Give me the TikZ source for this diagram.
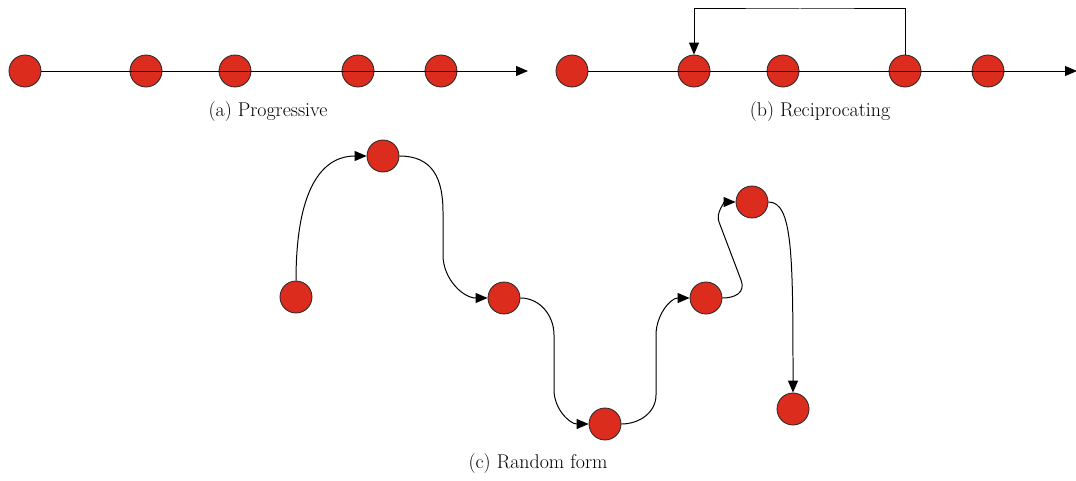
\documentclass[tikz,border=0pt]{standalone}
\usepackage{tikz}
\usetikzlibrary{arrows.meta}

\definecolor{ballred}{RGB}{220,44,30}

\begin{document}
\begin{tikzpicture}[x=0.03cm,y=-0.03cm,>={Triangle[length=3.6mm,width=3mm]},line width=0.85pt,
  ball/.style={circle,draw=black!85,line width=0.7pt,fill=ballred,minimum size=0.96cm,inner sep=0pt},
  caption/.style={font=\fontsize{17}{20}\selectfont}]
\useasboundingbox (0,0) rectangle (1076,480);

% (a) progressive
\node[ball] (p1) at (25,71) {};
\node[ball] (p2) at (146,71) {};
\node[ball] (p3) at (235,71) {};
\node[ball] (p4) at (358,71) {};
\node[ball] (p5) at (441,71) {};
\coordinate (pend) at (528,71);
\draw[->] (p1.east) -- (pend);
\node[caption] (pcap) at (268,112) {(a) Progressive};

% (b) reciprocating
\node[ball] (r1) at (572,71) {};
\node[ball] (r2) at (694,71) {};
\node[ball] (r3) at (783,71) {};
\node[ball] (r4) at (905,71) {};
\node[ball] (r5) at (988,71) {};
\coordinate (rend) at (1077,71);
\coordinate (rtop) at (800,9);
\draw[->] (r1.east) -- (rend);
\draw[->] (r4.north) |- (rtop) -| (r2.north);
\node[caption] (rcap) at (820,112) {(b) Reciprocating};

% (c) random form
\node[ball] (c1) at (296,297) {};
\node[ball] (c2) at (383,156) {};
\node[ball] (c3) at (504,298) {};
\node[ball] (c4) at (605,424) {};
\node[ball] (c5) at (706,298) {};
\node[ball] (c6) at (752,202) {};
\node[ball] (c7) at (793,409) {};

\draw[->] (c1.north) .. controls +(0,-100) and +(-40,0) .. (c2.west);
\draw[->] (c2.east) to[out=0,in=90,looseness=1.2] (443,212) -- (443,255) to[out=270,in=180] (c3.west);
\draw[->] (c3.east) to[out=0,in=90] (554,335) -- (554,390) to[out=270,in=180] (c4.west);
\draw[->] (c4.east) to[out=0,in=270] (656,395) -- (656,335) to[out=90,in=180] (c5.west);
\draw[->] (c5.east) to[out=0,in=-69,looseness=1.3] (741,280) -- (719,222) to[out=111,in=180] (c6.west);
\draw[->] (c6.east) .. controls +(24,0) and +(0,-140) .. (c7.north);
\node[caption] (ccap) at (538,464) {(c) Random form};
\end{tikzpicture}
\end{document}
